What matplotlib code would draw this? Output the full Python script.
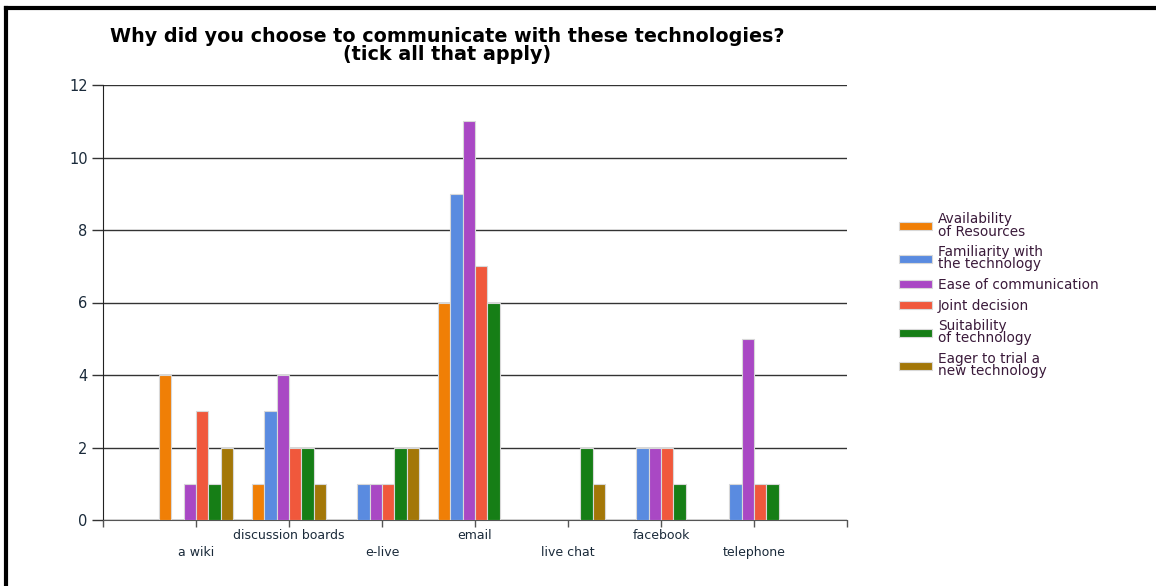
import numpy as np
import matplotlib
matplotlib.use("Agg")
import matplotlib.pyplot as plt
from matplotlib.lines import Line2D
from matplotlib.patches import Patch

categories = ["a wiki", "discussion boards", "e-live", "email", "live chat", "facebook", "telephone"]
series_names = ["Availability\nof Resources", "Familiarity with\nthe technology", "Ease of communication",
                "Joint decision", "Suitability\nof technology", "Eager to trial a\nnew technology"]
availability = [4, 1, 0, 6, 0, 0, 0]
familiarity = [0, 3, 1, 9, 0, 2, 1]
ease = [1, 4, 1, 11, 0, 2, 5]
joint = [3, 2, 1, 7, 0, 2, 1]
suitability = [1, 2, 2, 6, 2, 1, 1]
eager = [2, 1, 2, 0, 1, 0, 0]
series = [availability, familiarity, ease, joint, suitability, eager]
colors = ["#F07F06", "#5A8BE0", "#A948C4", "#F0583C", "#167E16", "#A37708"]
yticks = [0, 2, 4, 6, 8, 10, 12]

plt.rcParams['font.family'] = ['DejaVu Sans']
fig = plt.figure(figsize=(11.56, 5.86), dpi=100)
ax = fig.add_axes([103/1156, 1-520/586, 744/1156, 435/586])

x = np.arange(1, len(categories) + 1)
n = len(series)
w = 0.8 / n
for i, (vals, c) in enumerate(zip(series, colors)):
    bars = ax.bar(x - 0.4 + w * (i + 0.5), vals, width=w, color=c, edgecolor="#d8d8d8",
                  linewidth=0.8, zorder=3)
    for b, v in zip(bars, vals):
        if v == 0:
            b.set_visible(False)

ax.set_xlim(0, len(categories) + 1)
ax.set_ylim(0, 12)
ax.set_yticks(yticks)
ax.yaxis.grid(True, color="#333333", linewidth=1.0, zorder=0)
ax.set_axisbelow(True)
ax.tick_params(axis="y", length=8, width=1, color="#333333", labelsize=10.5, labelcolor="#1a2a3a", pad=3)
ax.set_xticks(list(range(0, len(categories) + 2)))
ax.set_xticklabels([""] + categories + [""])
ax.tick_params(axis="x", length=5, width=1, color="#555555", labelsize=9, labelcolor="#1a2a3a")
ticks = ax.xaxis.get_major_ticks()
for k, t in enumerate(ticks):
    if k % 2 == 1:
        t.set_pad(14)
    else:
        t.set_pad(1.5)
for s in ["top", "right"]:
    ax.spines[s].set_visible(False)
ax.spines["left"].set_color("#222222")
ax.spines["bottom"].set_color("#555555")

fig.text(447/1156, 1-36/586, "Why did you choose to communicate with these technologies?",
         ha="center", va="center", fontsize=13.8, fontweight="bold", family="DejaVu Sans")
fig.text(447/1156, 1-54/586, "(tick all that apply)",
         ha="center", va="center", fontsize=13.8, fontweight="bold", family="DejaVu Sans")

leg_handles = [Patch(facecolor=c, edgecolor="#d8d8d8", linewidth=0.8) for c in colors]
leg = fig.legend(leg_handles, series_names, loc="upper left",
                 bbox_to_anchor=(887/1156, 1-200/586), frameon=False, fontsize=9.8,
                 handlelength=2.4, handleheight=0.55, handletextpad=0.45, labelspacing=0.48)
for t in leg.get_texts():
    t.set_color("#3a1a3a")
    t.set_linespacing(0.85)

fig.add_artist(Line2D([6/1156, 6/1156], [0, 1-8/586], color="black", linewidth=3, transform=fig.transFigure))
fig.add_artist(Line2D([6/1156, 1], [1-8/586, 1-8/586], color="black", linewidth=3, transform=fig.transFigure))

fig.savefig("out.png", dpi=100)
